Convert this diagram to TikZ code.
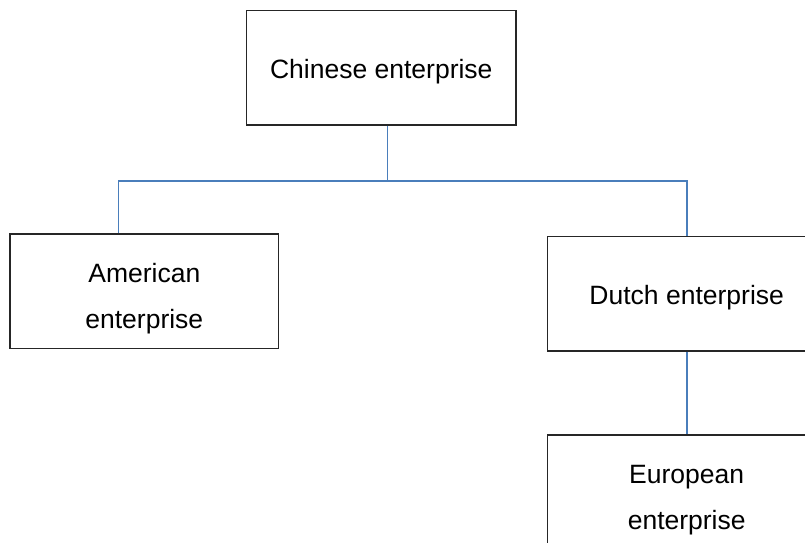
\documentclass[tikz,border=0pt]{standalone}
\usepackage{fontspec}
\setmainfont{Liberation Sans}
\definecolor{conn}{HTML}{4A7EBB}
\definecolor{boxline}{HTML}{262626}
\newcommand{\topgap}[1]{\rule{0pt}{#1}}
\begin{document}
\begin{tikzpicture}[x=1pt,y=-1pt,
  orgbox/.style={draw=boxline, line width=1.2pt, rectangle, minimum height=114.5pt, align=center, inner sep=0pt,
    font=\fontsize{26.5pt}{46pt}\selectfont},
  link/.style={draw=conn, line width=1.6pt}]
\useasboundingbox (0,0) rectangle (805,542);
\clip (0,0) rectangle (805,542);
\node[orgbox, minimum width=269.3pt] (chn) at (381.3,67.8) {\topgap{26pt}Chinese enterprise};
\node[orgbox, minimum width=268.7pt] (amr) at (144.3,291.3) {\topgap{33pt}American\\enterprise};
\node[orgbox, minimum width=278pt] (dut) at (686.7,293.8) {\topgap{26pt}Dutch enterprise};
\node[orgbox, minimum width=278pt, minimum height=115pt] (eur) at (686.7,492.5) {\topgap{33pt}European\\enterprise};
\coordinate (jc) at (387.3,180.7);
\coordinate (jl) at (118.3,180.7);
\coordinate (jr) at (686.7,180.7);
\draw[link] (chn.south -| jc) -- (jc);
\draw[link] (jl |- amr.north) -- (jl) -- (jr) -- (jr |- dut.north);
\draw[link] (dut.south) -- (eur.north);
\end{tikzpicture}
\end{document}
